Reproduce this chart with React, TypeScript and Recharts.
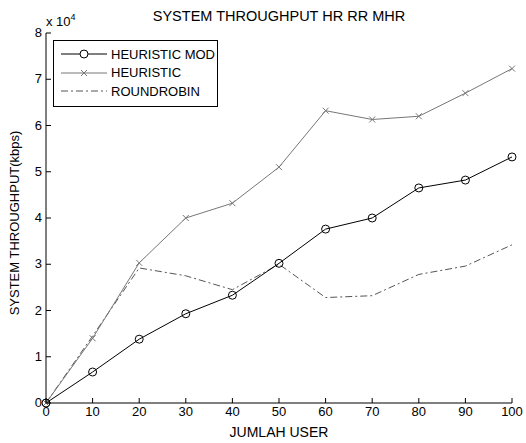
import { LineChart, Line, XAxis, YAxis } from 'recharts';

// jumlah user (sumbu x)
const users = [0, 10, 20, 30, 40, 50, 60, 70, 80, 90, 100];

// throughput dalam kbps
const heuristicMod = [0, 6700, 13800, 19300, 23300, 30200, 37600, 40000, 46500, 48200, 53200];
const heuristic = [0, 14000, 30300, 40000, 43200, 51000, 63200, 61300, 62000, 67000, 72300];
const roundRobin = [0, 14500, 29200, 27500, 24500, 30000, 22800, 23200, 27800, 29600, 34200];

const xTicks = [0, 10, 20, 30, 40, 50, 60, 70, 80, 90, 100];
const yTicks = [0, 10000, 20000, 30000, 40000, 50000, 60000, 70000, 80000];

const data = users.map((u, i) => ({
  user: u,
  mod: heuristicMod[i],
  heur: heuristic[i],
  rr: roundRobin[i],
}));

const FONT = '"Liberation Sans", Arial, sans-serif';
const FS = 13;
const DASH_DOT = '7 3 2 3';

const XTick = ({ x, y, payload }: any) => (
  <g>
    <line x1={x} y1={y} x2={x} y2={y - 5} stroke="#000" />
    <text x={x} y={y + 13} textAnchor="middle" fontSize={FS} fontFamily={FONT} fill="#000">
      {payload.value}
    </text>
  </g>
);

const YTick = ({ x, y, payload }: any) => (
  <g>
    <line x1={x} y1={y} x2={x + 5} y2={y} stroke="#000" />
    <text x={x - 4} y={y + 4} textAnchor="end" fontSize={FS} fontFamily={FONT} fill="#000">
      {payload.value / 10000}
    </text>
  </g>
);

const CrossDot = ({ cx, cy }: any) => (
  <g stroke="#777" strokeWidth={1}>
    <line x1={cx - 3} y1={cy - 3} x2={cx + 3} y2={cy + 3} />
    <line x1={cx - 3} y1={cy + 3} x2={cx + 3} y2={cy - 3} />
  </g>
);

// legenda ditaruh manual di pojok kiri atas
const LegendBox = () => {
  const rows = [
    { label: 'HEURISTIC MOD', color: '#000', dash: undefined, marker: 'o' },
    { label: 'HEURISTIC', color: '#777', dash: undefined, marker: 'x' },
    { label: 'ROUNDROBIN', color: '#555', dash: DASH_DOT, marker: '' },
  ];
  return (
    <div
      style={{
        position: 'absolute',
        left: 53,
        top: 40,
        border: '1px solid #000',
        background: '#fff',
        width: 165,
        height: 67,
        boxSizing: 'border-box',
        paddingTop: 4,
      }}
    >
      {rows.map((r) => (
        <div key={r.label} style={{ display: 'flex', alignItems: 'center', height: 18.5 }}>
          <svg width={50} height={12} style={{ marginLeft: 5 }}>
            <line x1={2} y1={6} x2={48} y2={6} stroke={r.color} strokeDasharray={r.dash} />
            {r.marker === 'o' && <circle cx={25} cy={6} r={4} fill="#fff" stroke="#000" />}
            {r.marker === 'x' && (
              <g stroke={r.color}>
                <line x1={22} y1={3} x2={28} y2={9} />
                <line x1={22} y1={9} x2={28} y2={3} />
              </g>
            )}
          </svg>
          <span style={{ fontFamily: FONT, fontSize: FS, color: '#000', marginLeft: 2 }}>{r.label}</span>
        </div>
      ))}
    </div>
  );
};

export default function App() {
  return (
    <div style={{ position: 'absolute', left: 0, top: 0, width: 526, height: 443, background: '#fff' }}>
      <LineChart
        width={526}
        height={443}
        data={data}
        margin={{ top: 33, right: 14, bottom: 0, left: 0 }}
      >
        <XAxis
          dataKey="user"
          type="number"
          domain={[0, 100]}
          ticks={xTicks}
          tickSize={0}
          tickMargin={0}
          height={40}
          stroke="#000"
          tick={<XTick />}
          interval={0}
        />
        <YAxis
          type="number"
          domain={[0, 80000]}
          ticks={yTicks}
          tickSize={0}
          tickMargin={0}
          width={46}
          stroke="#000"
          tick={<YTick />}
          interval={0}
        />
        <Line
          dataKey="rr"
          stroke="#555"
          strokeWidth={1}
          strokeDasharray={DASH_DOT}
          dot={false}
          isAnimationActive={false}
        />
        <Line
          dataKey="heur"
          stroke="#777"
          strokeWidth={1}
          dot={<CrossDot />}
          isAnimationActive={false}
        />
        <Line
          dataKey="mod"
          stroke="#000"
          strokeWidth={1}
          dot={{ r: 4, fill: 'none', stroke: '#000', strokeWidth: 1 }}
          isAnimationActive={false}
        />
      </LineChart>
      <LegendBox />
      {/* judul dan label sumbu */}
      <div style={{ position: 'absolute', left: 0, top: 8, width: 558, textAlign: 'center', fontFamily: FONT, fontSize: 14.5 }}>
        SYSTEM THROUGHPUT HR RR MHR
      </div>
      <div style={{ position: 'absolute', left: 46, top: 12, fontFamily: FONT, fontSize: FS }}>
        x 10<sup style={{ fontSize: 9, verticalAlign: 6 }}>4</sup>
      </div>
      <div style={{ position: 'absolute', left: 46, top: 424, width: 466, textAlign: 'center', fontFamily: FONT, fontSize: 14 }}>
        JUMLAH USER
      </div>
      <div
        style={{
          position: 'absolute',
          left: 14,
          top: 223,
          transform: 'translate(-50%, -50%) rotate(-90deg)',
          whiteSpace: 'nowrap',
          fontFamily: FONT,
          fontSize: FS,
        }}
      >
        SYSTEM THROUGHPUT(kbps)
      </div>
    </div>
  );
}
